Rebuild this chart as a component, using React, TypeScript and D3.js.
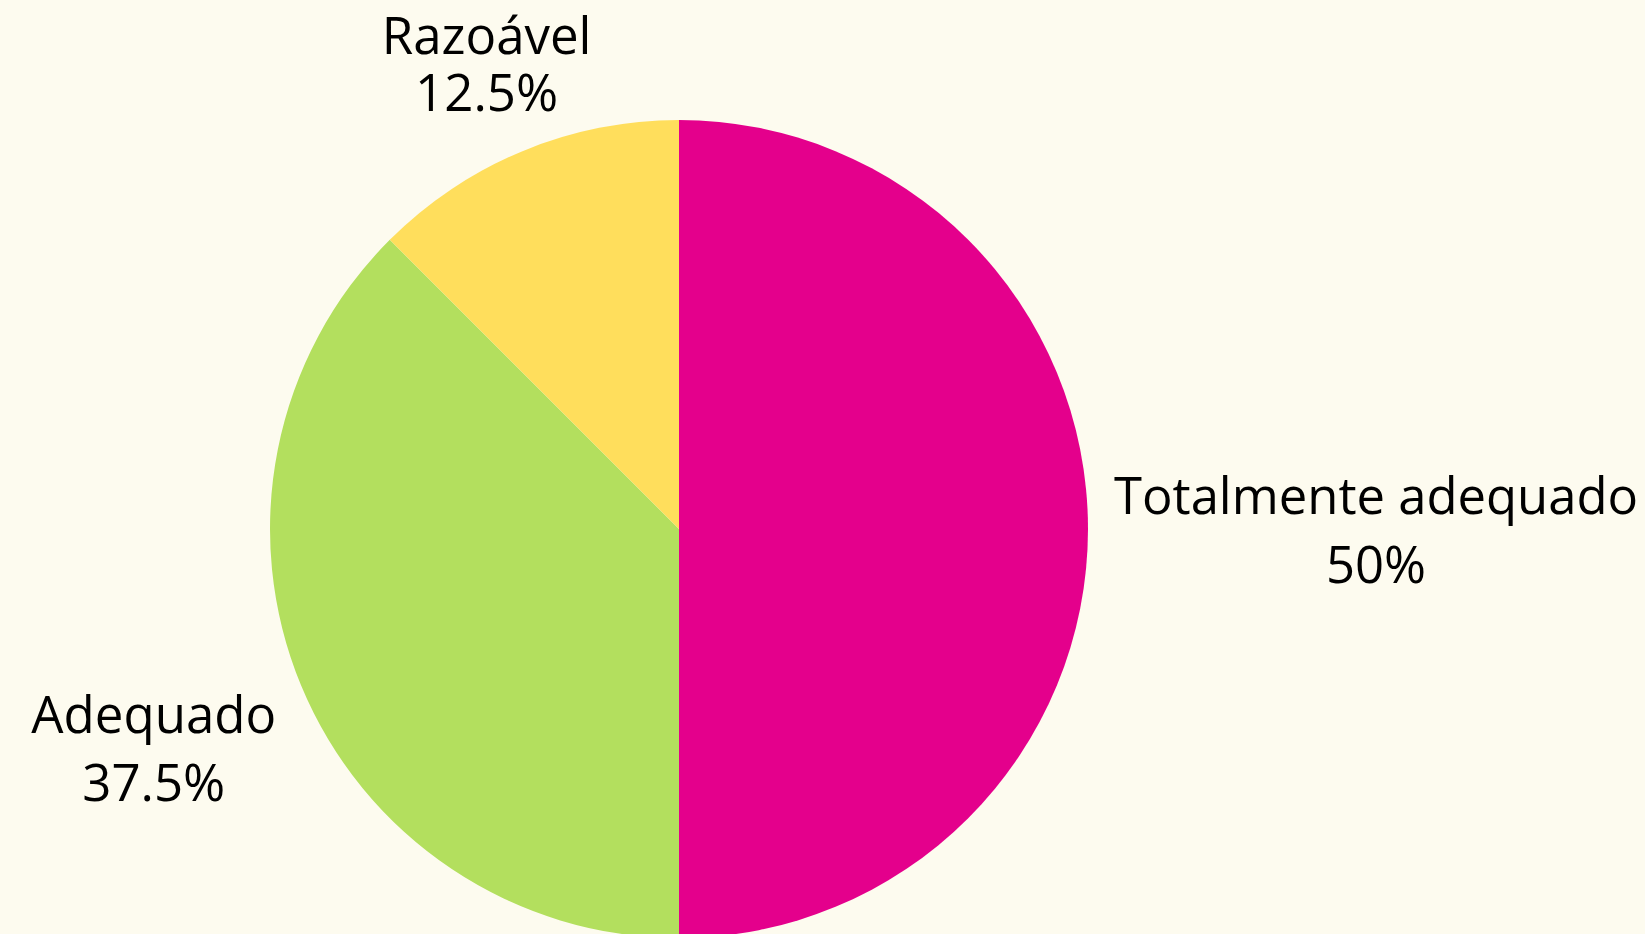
import React from "react";
import * as d3 from "d3";

const categories = ["Totalmente adequado", "Adequado", "Razoável"];
const values = [50, 37.5, 12.5];
const valueLabels = ["50%", "37.5%", "12.5%"];
const colors = ["#E4008C", "#B3DF5E", "#FFDE5C"];

const W = 1645;
const H = 934;
const cx = 679;
const cy = 529;
const R = 409;
const FONT = "'Open Sans', 'Noto Sans', sans-serif";
// label layout (font size, line height, nudge from the default outside placement)
const labelFontSize = [50.8, 51, 51];
const labelLineHeight = [69, 68, 57];
const labelNudgeX = [-1, 2, 96];
const labelNudgeY = [-3, 51, -45];

function measure(text: string, fs: number): number {
  if (typeof document === "undefined") return text.length * fs * 0.55;
  const c = document.createElement("canvas");
  const ctx = c.getContext("2d");
  if (!ctx) return text.length * fs * 0.55;
  ctx.font = `${fs}px 'Open Sans'`;
  return ctx.measureText(text).width;
}

export default function App() {
  const data = categories.map((c, i) => ({ c, v: values[i], l: valueLabels[i], col: colors[i] }));
  const pie = d3.pie<any>().sort(null).value((d) => d.v);
  const arcs = pie(data);
  const arc = d3.arc<any>().innerRadius(0).outerRadius(R);

  return (
    <svg width={W} height={H} style={{ position: "absolute", left: 0, top: 0, background: "#FDFBEF" }}>
      <rect width={W} height={H} fill="#FDFBEF" />
      <g transform={`translate(${cx},${cy})`}>
        {arcs.map((a, i) => (
          <path key={i} d={arc(a) as string} fill={a.data.col} />
        ))}
        {arcs.map((a, i) => {
          const mid = (a.startAngle + a.endAngle) / 2;
          const s = Math.sin(mid);
          const c = -Math.cos(mid);
          const fs = labelFontSize[i];
          const lh = labelLineHeight[i];
          const w = Math.max(measure(a.data.c, fs), measure(a.data.l, fs));
          const h = 108;
          const mx = R * s;
          const my = R * c;
          let dx = w / 2;
          let dy = h / 2;
          if (mx < 0) dx = -dx;
          if (my < 0) dy = -dy;
          const ox = dx + (Math.abs(dy) * (dx > 0 ? 1 : -1)) / 2;
          const oy = Math.abs(my) < 1e-6 ? 0 : dy / (1 + (mx * mx) / (my * my));
          const px = mx + ox + labelNudgeX[i];
          const py = my + oy + labelNudgeY[i];
          const b1 = py - lh / 2 + 22.5;
          return (
            <text key={"t" + i} textAnchor="middle" fontFamily={FONT} fontSize={fs} fill="#000">
              <tspan x={px} y={b1}>{a.data.c}</tspan>
              <tspan x={px} y={b1 + lh}>{a.data.l}</tspan>
            </text>
          );
        })}
      </g>
    </svg>
  );
}
